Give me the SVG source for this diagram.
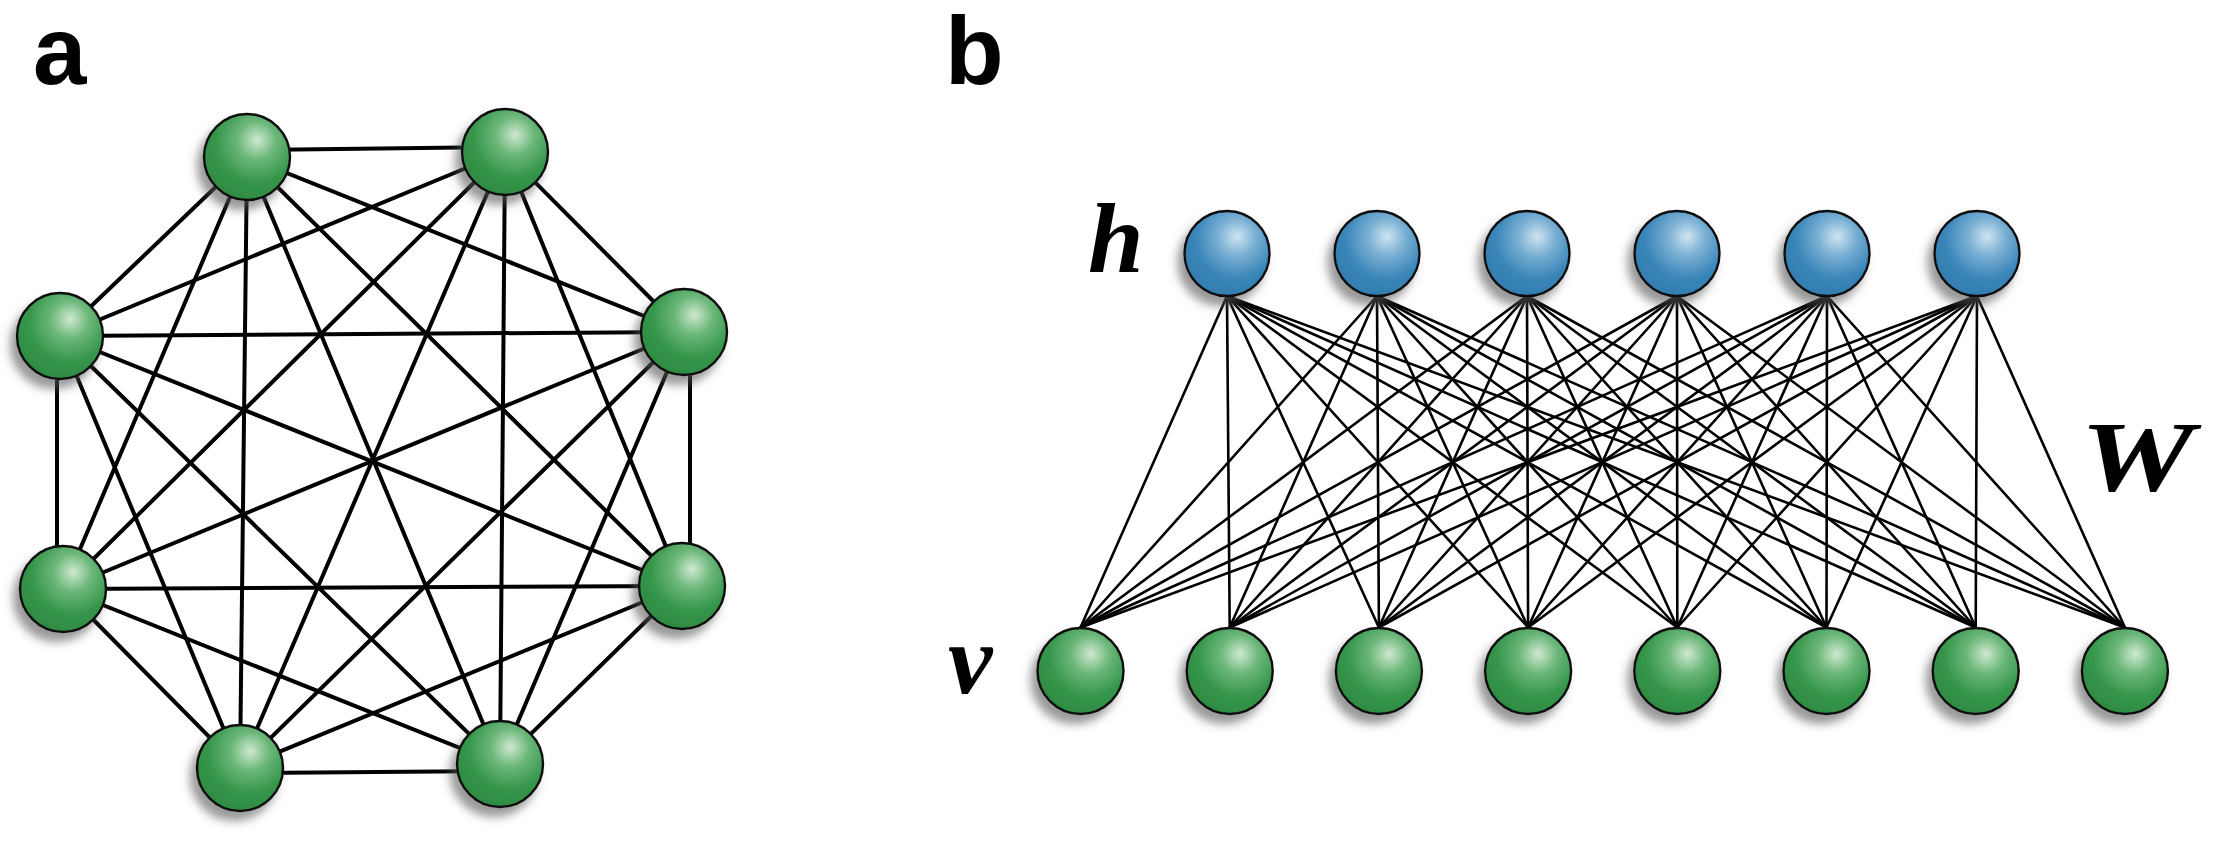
<svg xmlns="http://www.w3.org/2000/svg" width="2213" height="848" viewBox="0 0 2213 848">
<style>
.ea{stroke:#000;stroke-width:4;stroke-linecap:round}
.eb{stroke:#000;stroke-width:2.6;stroke-linecap:round}
.g{fill:url(#gg);stroke:#111;stroke-width:2.4;filter:url(#sh)}
.bl{fill:url(#bg);stroke:#111;stroke-width:2.4;filter:url(#sh)}
.lab{font-family:"Liberation Sans",Arial,sans-serif;font-weight:bold;font-size:96px;fill:#000}
.mth{font-family:"Liberation Serif","Times New Roman",serif;font-weight:bold;font-style:italic;font-size:100px;fill:#000}
</style>
<defs>
<radialGradient id="gg" cx="0.6" cy="0.33" r="0.8" fx="0.62" fy="0.3">
<stop offset="0" stop-color="#cfe9d0"/>
<stop offset="0.28" stop-color="#6cb77a"/>
<stop offset="0.6" stop-color="#35964a"/>
<stop offset="1" stop-color="#2a863d"/>
</radialGradient>
<radialGradient id="bg" cx="0.6" cy="0.33" r="0.8" fx="0.62" fy="0.3">
<stop offset="0" stop-color="#cfe4f1"/>
<stop offset="0.28" stop-color="#79afd3"/>
<stop offset="0.6" stop-color="#3a86b9"/>
<stop offset="1" stop-color="#2f78aa"/>
</radialGradient>
<filter id="sh" x="-40%" y="-40%" width="180%" height="180%">
<feGaussianBlur in="SourceAlpha" stdDeviation="5"/>
<feOffset dx="-6" dy="9" result="b"/>
<feFlood flood-color="#555" flood-opacity="0.6"/>
<feComposite in2="b" operator="in"/>
<feMerge><feMergeNode/><feMergeNode in="SourceGraphic"/></feMerge>
</filter>
</defs>
<rect width="2213" height="848" fill="#fff"/>
<text class="lab" x="33" y="84">a</text>
<text class="lab" x="945" y="84">b</text>
<g id="connectors">
<g id="edges-a">
<line class="ea" x1="247" y1="150" x2="505" y2="147"/>
<line class="ea" x1="247" y1="157" x2="684" y2="332"/>
<line class="ea" x1="247" y1="157" x2="682" y2="586"/>
<line class="ea" x1="247" y1="157" x2="500" y2="764"/>
<line class="ea" x1="247" y1="157" x2="240" y2="768"/>
<line class="ea" x1="247" y1="157" x2="63" y2="589"/>
<line class="ea" x1="247" y1="157" x2="60" y2="336"/>
<line class="ea" x1="505" y1="152" x2="684" y2="332"/>
<line class="ea" x1="505" y1="152" x2="682" y2="586"/>
<line class="ea" x1="505" y1="152" x2="500" y2="764"/>
<line class="ea" x1="505" y1="152" x2="240" y2="768"/>
<line class="ea" x1="505" y1="152" x2="63" y2="589"/>
<line class="ea" x1="505" y1="152" x2="60" y2="336"/>
<line class="ea" x1="690" y1="332" x2="690" y2="586"/>
<line class="ea" x1="684" y1="332" x2="500" y2="764"/>
<line class="ea" x1="684" y1="332" x2="240" y2="768"/>
<line class="ea" x1="684" y1="332" x2="63" y2="589"/>
<line class="ea" x1="684" y1="332" x2="60" y2="336"/>
<line class="ea" x1="682" y1="586" x2="500" y2="764"/>
<line class="ea" x1="682" y1="586" x2="240" y2="768"/>
<line class="ea" x1="682" y1="586" x2="63" y2="589"/>
<line class="ea" x1="682" y1="586" x2="60" y2="336"/>
<line class="ea" x1="500" y1="771" x2="240" y2="773"/>
<line class="ea" x1="500" y1="764" x2="63" y2="589"/>
<line class="ea" x1="500" y1="764" x2="60" y2="336"/>
<line class="ea" x1="240" y1="768" x2="63" y2="589"/>
<line class="ea" x1="240" y1="768" x2="60" y2="336"/>
<line class="ea" x1="57" y1="589" x2="57" y2="336"/>
</g>
<g id="edges-b">
<line class="eb" x1="1227" y1="296" x2="1080.5" y2="627.5"/>
<line class="eb" x1="1227" y1="296" x2="1229.7" y2="627.5"/>
<line class="eb" x1="1227" y1="296" x2="1378.9" y2="627.5"/>
<line class="eb" x1="1227" y1="296" x2="1528.1" y2="627.5"/>
<line class="eb" x1="1227" y1="296" x2="1677.3" y2="627.5"/>
<line class="eb" x1="1227" y1="296" x2="1826.5" y2="627.5"/>
<line class="eb" x1="1227" y1="296" x2="1975.7" y2="627.5"/>
<line class="eb" x1="1227" y1="296" x2="2124.9" y2="627.5"/>
<line class="eb" x1="1377" y1="296" x2="1080.5" y2="627.5"/>
<line class="eb" x1="1377" y1="296" x2="1229.7" y2="627.5"/>
<line class="eb" x1="1377" y1="296" x2="1378.9" y2="627.5"/>
<line class="eb" x1="1377" y1="296" x2="1528.1" y2="627.5"/>
<line class="eb" x1="1377" y1="296" x2="1677.3" y2="627.5"/>
<line class="eb" x1="1377" y1="296" x2="1826.5" y2="627.5"/>
<line class="eb" x1="1377" y1="296" x2="1975.7" y2="627.5"/>
<line class="eb" x1="1377" y1="296" x2="2124.9" y2="627.5"/>
<line class="eb" x1="1527" y1="296" x2="1080.5" y2="627.5"/>
<line class="eb" x1="1527" y1="296" x2="1229.7" y2="627.5"/>
<line class="eb" x1="1527" y1="296" x2="1378.9" y2="627.5"/>
<line class="eb" x1="1527" y1="296" x2="1528.1" y2="627.5"/>
<line class="eb" x1="1527" y1="296" x2="1677.3" y2="627.5"/>
<line class="eb" x1="1527" y1="296" x2="1826.5" y2="627.5"/>
<line class="eb" x1="1527" y1="296" x2="1975.7" y2="627.5"/>
<line class="eb" x1="1527" y1="296" x2="2124.9" y2="627.5"/>
<line class="eb" x1="1677" y1="296" x2="1080.5" y2="627.5"/>
<line class="eb" x1="1677" y1="296" x2="1229.7" y2="627.5"/>
<line class="eb" x1="1677" y1="296" x2="1378.9" y2="627.5"/>
<line class="eb" x1="1677" y1="296" x2="1528.1" y2="627.5"/>
<line class="eb" x1="1677" y1="296" x2="1677.3" y2="627.5"/>
<line class="eb" x1="1677" y1="296" x2="1826.5" y2="627.5"/>
<line class="eb" x1="1677" y1="296" x2="1975.7" y2="627.5"/>
<line class="eb" x1="1677" y1="296" x2="2124.9" y2="627.5"/>
<line class="eb" x1="1827" y1="296" x2="1080.5" y2="627.5"/>
<line class="eb" x1="1827" y1="296" x2="1229.7" y2="627.5"/>
<line class="eb" x1="1827" y1="296" x2="1378.9" y2="627.5"/>
<line class="eb" x1="1827" y1="296" x2="1528.1" y2="627.5"/>
<line class="eb" x1="1827" y1="296" x2="1677.3" y2="627.5"/>
<line class="eb" x1="1827" y1="296" x2="1826.5" y2="627.5"/>
<line class="eb" x1="1827" y1="296" x2="1975.7" y2="627.5"/>
<line class="eb" x1="1827" y1="296" x2="2124.9" y2="627.5"/>
<line class="eb" x1="1977" y1="296" x2="1080.5" y2="627.5"/>
<line class="eb" x1="1977" y1="296" x2="1229.7" y2="627.5"/>
<line class="eb" x1="1977" y1="296" x2="1378.9" y2="627.5"/>
<line class="eb" x1="1977" y1="296" x2="1528.1" y2="627.5"/>
<line class="eb" x1="1977" y1="296" x2="1677.3" y2="627.5"/>
<line class="eb" x1="1977" y1="296" x2="1826.5" y2="627.5"/>
<line class="eb" x1="1977" y1="296" x2="1975.7" y2="627.5"/>
<line class="eb" x1="1977" y1="296" x2="2124.9" y2="627.5"/>
</g>
</g>
<g id="a1"><circle class="g" cx="247" cy="157" r="43"/></g>
<g id="a2"><circle class="g" cx="505" cy="152" r="43"/></g>
<g id="a3"><circle class="g" cx="684" cy="332" r="43"/></g>
<g id="a4"><circle class="g" cx="682" cy="586" r="43"/></g>
<g id="a5"><circle class="g" cx="500" cy="764" r="43"/></g>
<g id="a6"><circle class="g" cx="240" cy="768" r="43"/></g>
<g id="a7"><circle class="g" cx="63" cy="589" r="43"/></g>
<g id="a8"><circle class="g" cx="60" cy="336" r="43"/></g>
<g id="h1"><circle class="bl" cx="1227" cy="253.5" r="42.5"/></g>
<g id="h2"><circle class="bl" cx="1377" cy="253.5" r="42.5"/></g>
<g id="h3"><circle class="bl" cx="1527" cy="253.5" r="42.5"/></g>
<g id="h4"><circle class="bl" cx="1677" cy="253.5" r="42.5"/></g>
<g id="h5"><circle class="bl" cx="1827" cy="253.5" r="42.5"/></g>
<g id="h6"><circle class="bl" cx="1977" cy="253.5" r="42.5"/></g>
<g id="v1"><circle class="g" cx="1080.5" cy="671" r="43"/></g>
<g id="v2"><circle class="g" cx="1229.7" cy="671" r="43"/></g>
<g id="v3"><circle class="g" cx="1378.9" cy="671" r="43"/></g>
<g id="v4"><circle class="g" cx="1528.1" cy="671" r="43"/></g>
<g id="v5"><circle class="g" cx="1677.3" cy="671" r="43"/></g>
<g id="v6"><circle class="g" cx="1826.5" cy="671" r="43"/></g>
<g id="v7"><circle class="g" cx="1975.7" cy="671" r="43"/></g>
<g id="v8"><circle class="g" cx="2124.9" cy="671" r="43"/></g>
<text class="mth" x="1088" y="272">h</text>
<text class="mth" x="948" y="693">v</text>
<text class="mth" x="2080" y="490" font-size="105" textLength="114" lengthAdjust="spacingAndGlyphs">W</text>
</svg>
